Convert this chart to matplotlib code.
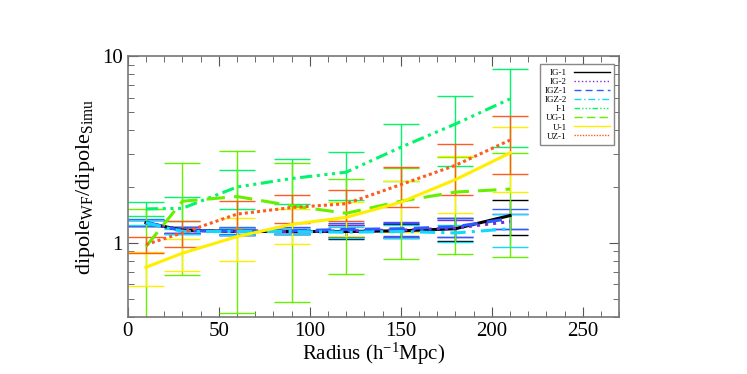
import numpy as np
import matplotlib
matplotlib.use("Agg")
import matplotlib.pyplot as plt
from matplotlib.ticker import FixedLocator, NullFormatter, MultipleLocator

plt.rcParams['font.family'] = ['Liberation Serif', 'DejaVu Serif']
plt.rcParams['mathtext.fontset'] = 'custom'
plt.rcParams['mathtext.rm'] = 'Liberation Serif'
plt.rcParams['mathtext.it'] = 'Liberation Serif:italic'

# radius bins (h^-1 Mpc)
radius = [10, 30, 60, 90, 120, 150, 180, 210]

names = ['IG-1', 'IG-2', 'IGZ-1', 'IGZ-2', 'I-1', 'UG-1', 'U-1', 'UZ-1']

# dipole_WF / dipole_Simu ratios
ig1 = [1.28, 1.17, 1.15, 1.15, 1.15, 1.16, 1.19, 1.40]
ig2 = [1.28, 1.17, 1.15, 1.15, 1.16, 1.17, 1.20, 1.30]
igz1 = [1.29, 1.16, 1.16, 1.16, 1.18, 1.19, 1.22, 1.35]
igz2 = [1.28, 1.15, 1.15, 1.15, 1.14, 1.15, 1.13, 1.19]
i1 = [1.52, 1.53, 1.99, 2.21, 2.39, 3.25, 4.33, 5.90]
ug1 = [0.955, 1.67, 1.77, 1.58, 1.44, 1.67, 1.87, 1.94]
u1 = [0.74, 0.88, 1.08, 1.255, 1.37, 1.65, 2.18, 3.03]
uz1 = [0.98, 1.13, 1.425, 1.545, 1.62, 2.05, 2.60, 3.55]

# errors
ig1_err = [0.05, 0.04, 0.05, 0.04, 0.10, 0.10, 0.17, 0.30]
ig2_err = [0.05, 0.04, 0.05, 0.04, 0.09, 0.10, 0.12, 0.12]
igz1_err = [0.06, 0.05, 0.05, 0.05, 0.10, 0.10, 0.14, 0.17]
igz2_err = [0.04, 0.04, 0.05, 0.04, 0.08, 0.09, 0.12, 0.24]
i1_err = [0.13, 0.22, 0.48, 0.60, 0.69, 1.10, 1.76, 2.65]
ug1_err = [0.57, 1.00, 1.35, 1.10, 0.76, 0.85, 1.00, 1.10]
u1_err = [0.15, 0.17, 0.28, 0.265, 0.28, 0.50, 0.73, 1.15]
uz1_err = [0.095, 0.175, 0.245, 0.265, 0.31, 0.50, 0.80, 1.22]


def main():
    fig = plt.figure(figsize=(7.47, 3.74), dpi=100)
    ax = fig.add_axes([0.171, 0.152, 0.658, 0.698])

    values = [ig1, ig2, igz1, igz2, i1, ug1, u1, uz1]
    errors = [ig1_err, ig2_err, igz1_err, igz2_err, i1_err, ug1_err, u1_err, uz1_err]
    colors = ['black', '#7a2fd6', '#2a5cff', '#10d8ff',
              '#00f56a', '#66f000', '#ffee00', '#ff5a1f']
    styles = ['-', ':', (0, (5, 3)), (0, (5, 2, 1, 2)),
              (0, (4, 1.5, 1, 1.5, 1, 1.5, 1, 1.5)), (0, (6, 3)), '-', (0, (1, 1))]

    for v, e, c in zip(values, errors, colors):
        ax.errorbar(radius, v, yerr=e, fmt='none', ecolor=c, elinewidth=1.0,
                    capsize=13, capthick=1.0, zorder=2)

    for v, c, ls, n in zip(values, colors, styles, names):
        ax.plot(radius, v, color=c, linestyle=ls, linewidth=2.2, label=n, zorder=3)

    ax.set_yscale('log')
    ax.set_xlim(0, 270)
    ax.set_ylim(0.4, 10)
    ax.yaxis.set_major_locator(FixedLocator([1, 10]))
    ax.yaxis.set_major_formatter(matplotlib.ticker.FixedFormatter(['1', '10']))
    ax.yaxis.set_minor_locator(FixedLocator([0.4, 0.5, 0.6, 0.7, 0.8, 0.9,
                                             2, 3, 4, 5, 6, 7, 8, 9]))
    ax.yaxis.set_minor_formatter(NullFormatter())
    ax.xaxis.set_major_locator(MultipleLocator(50))
    ax.xaxis.set_minor_locator(MultipleLocator(10))

    ax.tick_params(which='both', direction='in', top=True, right=True,
                   labelsize=15, color='#555555')
    ax.tick_params(which='major', length=7)
    ax.tick_params(which='minor', length=4)
    for s in ax.spines.values():
        s.set_color('#777777')
        s.set_linewidth(1.2)

    ax.set_xlabel(r'Radius (h$^{\mathregular{-1}}$Mpc)', fontsize=15, labelpad=0)
    ax.set_ylabel(r'dipole$_{\mathregular{WF}}$/dipole$_{\mathregular{Simu}}$',
                  fontsize=16, labelpad=4)

    leg = ax.legend(loc='upper right', bbox_to_anchor=(0.99, 0.968), fontsize=6.5,
                    handlelength=4.0, handletextpad=0.8, labelspacing=0.08,
                    fancybox=False, edgecolor='#888888', framealpha=1,
                    markerfirst=False, borderpad=0.5, borderaxespad=0)
    for line in leg.get_lines():
        line.set_linewidth(1.0)

    fig.savefig('out.png', dpi=100)


if __name__ == "__main__":
    main()
